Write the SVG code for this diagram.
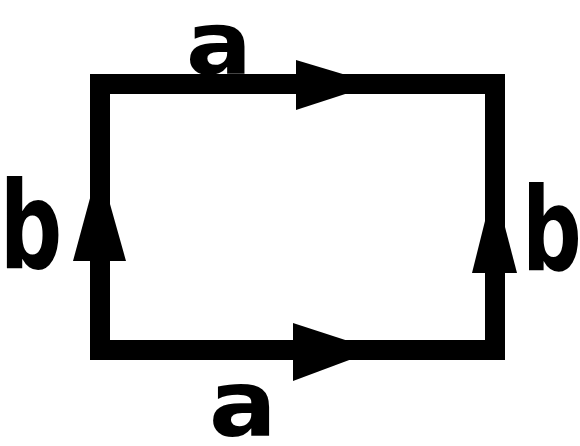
<svg xmlns="http://www.w3.org/2000/svg" width="580" height="446" viewBox="0 0 580 446">
<style>
.edge{stroke:#000;stroke-width:20;fill:none;stroke-linecap:square;stroke-linejoin:miter}
.head{fill:#000}
.lbl{font-family:"DejaVu Sans",sans-serif;font-weight:bold;fill:#000;text-anchor:middle}
</style>
<rect width="580" height="446" fill="#fff"/>
<g id="connectors">
  <g id="edge-top"><path class="edge" d="M100,84 H495"/><polygon class="head" points="296,60 376,84 296,110"/></g>
  <g id="edge-bottom"><path class="edge" d="M100,350 H495"/><polygon class="head" points="293,323 376,350 293,381"/></g>
  <g id="edge-left"><path class="edge" d="M100,84 V350"/><polygon class="head" points="73,261 99,165 126,261"/></g>
  <g id="edge-right"><path class="edge" d="M495,84 V350"/><polygon class="head" points="472,273 494,185 517,273"/></g>
</g>
<g id="label-top-a"><text class="lbl" transform="translate(219,74) scale(1.12,1)" font-size="88">a</text></g>
<g id="label-bottom-a"><text class="lbl" transform="translate(243,436) scale(1.1,1)" font-size="92">a</text></g>
<g id="label-left-b"><text class="lbl" transform="translate(31,268) scale(0.72,1)" font-size="122">b</text></g>
<g id="label-right-b"><text class="lbl" transform="translate(552,270) scale(0.72,1)" font-size="116">b</text></g>
</svg>
